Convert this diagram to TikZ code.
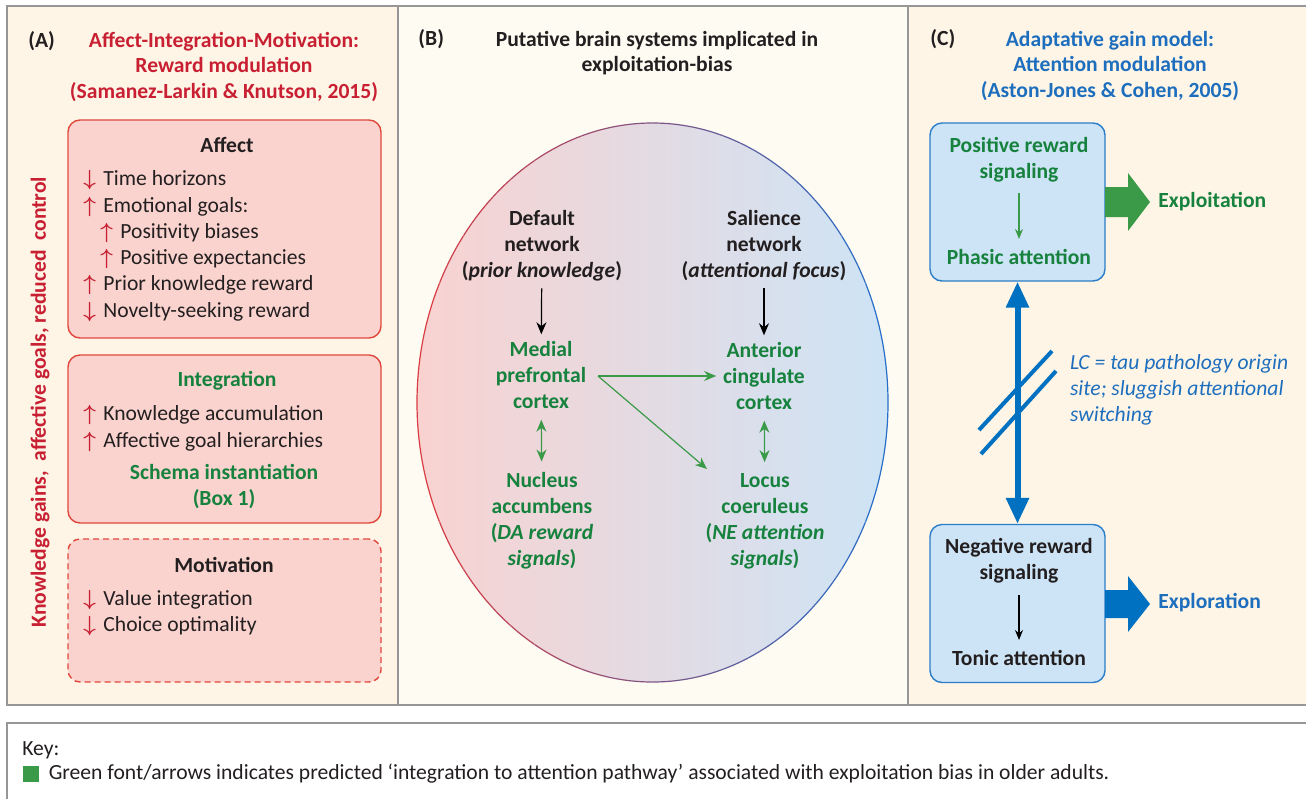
\documentclass[tikz,border=0pt]{standalone}
\usepackage{fontspec}
\setmainfont{Carlito}
\usetikzlibrary{positioning,arrows.meta}

\definecolor{redT}{RGB}{200,32,50}
\definecolor{greenT}{RGB}{22,130,62}
\definecolor{greenA}{RGB}{58,154,72}
\definecolor{blueT}{RGB}{30,110,190}
\definecolor{blueA}{RGB}{0,112,192}
\definecolor{creamA}{RGB}{254,245,230}
\definecolor{creamB}{RGB}{254,251,243}
\definecolor{boxRfill}{RGB}{250,211,206}
\definecolor{boxRline}{RGB}{224,72,62}
\definecolor{boxBfill}{RGB}{205,228,246}
\definecolor{boxBline}{RGB}{42,125,201}
\definecolor{ellL}{RGB}{249,210,208}
\definecolor{ellR}{RGB}{205,228,246}
\definecolor{ellBR}{RGB}{217,60,66}
\definecolor{ellBB}{RGB}{40,110,200}
\definecolor{frameG}{RGB}{150,150,150}
\definecolor{txt}{RGB}{35,31,32}

\newcommand\fs{\fontsize{10.8}{13}\selectfont}
\newcommand\ua{\makebox[10pt][l]{\textcolor{redT}{\boldmath$\uparrow$}}}
\newcommand\da{\makebox[10pt][l]{\textcolor{redT}{\boldmath$\downarrow$}}}

\begin{document}
\begin{tikzpicture}[x=0.5pt, y=-0.5pt,
  font=\fs, text=txt,
  frame/.style={draw=frameG, line width=1pt},
  ttl/.style={font=\fontsize{10.8}{12.8}\selectfont\bfseries, align=center},
  item/.style={anchor=west, inner sep=0pt, text height=7.5pt, text depth=2pt},
  hd/.style={font=\fs\bfseries, inner sep=0pt, text height=7.5pt, text depth=2pt},
  redbox/.style={draw=boxRline, fill=boxRfill, rounded corners=6pt, line width=0.7pt, minimum width=156.5pt},
  bluebox/.style={draw=boxBline, fill=boxBfill, rounded corners=6pt, line width=0.7pt, minimum width=87.5pt, minimum height=79pt},
  brain/.style={font=\fs\bfseries, align=center, text=greenT},
  net/.style={font=\fs\bfseries, align=center},
  arr/.style={-{Stealth[length=6pt,width=5pt]}, line width=0.6pt},
  garr/.style={arr, draw=greenA},
  dgarr/.style={{Stealth[length=6pt,width=5pt]}-{Stealth[length=6pt,width=5pt]}, line width=0.6pt, draw=greenA},
  bigarr/.style={{Triangle[length=13pt,width=11pt]}-{Triangle[length=13pt,width=11pt]}, line width=3pt, draw=blueA}]
\useasboundingbox (0,0) rectangle (1306,798);
% --- panel backgrounds and frames
\fill[creamA] (7,6) rectangle (398,705);
\fill[creamB] (398,6) rectangle (908,705);
\fill[creamA] (908,6) rectangle (1330,705);
\draw[frame] (7,6) rectangle (1330,705);
\draw[frame] (398,6) -- (398,705);
\draw[frame] (908,6) -- (908,705);
\draw[frame, fill=white] (7,723) rectangle (1330,830);

% --- panel A: reward modulation
\node[hd, anchor=west] (labA) at (28,42) {(A)};
\node[ttl, text=redT] (ttlA) at (224,67) {Affect-Integration-Motivation:\\Reward modulation\\(Samanez-Larkin \& Knutson, 2015)};
\node[rotate=90, font=\fs\bfseries, text=redT] (side) at (40,402) {Knowledge gains,\ \ affective goals, reduced\ \ control};
\node[redbox, minimum height=109pt] (affbox) at (224.5,229) {};
\node[redbox, minimum height=84pt] (intbox) at (224.5,439) {};
\node[redbox, minimum height=71.5pt, dash pattern=on 3pt off 2pt] (motbox) at (224.5,610.5) {};
\node[hd] (affhd) at (227,147) {Affect};
\foreach \x/\y/\t in {83/180/\da Time horizons, 83/207/\ua Emotional goals:, 100/233/\ua Positivity biases,
  100/259/\ua Positive expectancies, 83/285/\ua Prior knowledge reward, 83/312/\da Novelty-seeking reward}
  \node[item] (aff\y) at (\x,\y) {\t};
\node[hd, text=greenT] (inthd) at (227,381) {Integration};
\foreach \y/\t in {415/\ua Knowledge accumulation, 442/\ua Affective goal hierarchies}
  \node[item] (int\y) at (83,\y) {\t};
\node[brain] (schema) at (224,487) {Schema instantiation\\(Box 1)};
\node[hd] (mothd) at (224,567) {Motivation};
\foreach \y/\t in {600/\da Value integration, 626/\da Choice optimality}
  \node[item] (mot\y) at (83,\y) {\t};

% --- panel B: brain systems
\node[hd, anchor=west] (labB) at (418,40) {(B)};
\node[ttl] (ttlB) at (657,53) {Putative brain systems implicated in\\exploitation-bias};
\shade[left color=ellL, right color=ellR] (652.5,402.5) ellipse [x radius=235.5, y radius=279.5];
\foreach \i in {0,...,19} {
  \pgfmathsetmacro\pc{100-\i*5.26}
  \begin{scope}
    \clip (416+\i*23.65,100) rectangle ++(23.65,600);
    \draw[line width=0.6pt, draw=ellBR!\pc!ellBB] (652.5,402.5) ellipse [x radius=235.5, y radius=279.5];
  \end{scope}
}
\node[net] (dmn) at (542,246) {Default\\network\\(\textit{prior knowledge})};
\node[net] (sal) at (764,246) {Salience\\network\\(\textit{attentional focus})};
\node[brain] (mpfc) at (541,375) {Medial\\prefrontal\\cortex};
\node[brain] (acc) at (764,376) {Anterior\\cingulate\\cortex};
\node[brain] (nacc) at (542,521) {Nucleus\\accumbens\\(\textit{DA reward}\\\textit{signals})};
\node[brain] (lc) at (765,521) {Locus\\coeruleus\\(\textit{NE attention}\\\textit{signals})};
\draw[arr] (dmn) -- (mpfc);
\draw[arr] (sal) -- (acc);
\draw[dgarr, shorten <=2pt, shorten >=2pt] (mpfc) -- (nacc);
\draw[dgarr, shorten <=2pt, shorten >=2pt] (acc) -- (lc);
\coordinate (mp) at (598,376);
\draw[garr] (mp) -- (acc.west |- mp);
\draw[garr] (mp) -- (707,469);

% --- panel C: attention modulation
\node[hd, anchor=west] (labC) at (930,40) {(C)};
\node[ttl, text=blueT] (ttlC) at (1110,66) {Adaptative gain model:\\Attention modulation\\(Aston-Jones \& Cohen, 2005)};
\node[bluebox] (upbox) at (1017.5,202) {};
\node[bluebox] (lobox) at (1017.5,603.5) {};
\node[net, text=greenT] (posr) at (1019,160) {Positive reward\\signaling};
\node[hd, text=greenT] (phas) at (1019,259) {Phasic attention};
\node[net] (negr) at (1019,561) {Negative reward\\signaling};
\node[hd] (toni) at (1019,660) {Tonic attention};
\draw[garr, -{Stealth[length=5pt,width=4pt]}] (1019,193) -- (1019,239);
\draw[arr, -{Stealth[length=5pt,width=4pt]}] (1019,595) -- (1019,640);
\draw[bigarr] (upbox.south) -- (lobox.north);
\draw[blueA, line width=2pt] (979,430) -- (1052,351);
\draw[blueA, line width=2pt] (981,454) -- (1056,371);
\node[align=left, anchor=west, text=blueT, font=\fs\itshape] (lcnote) at (1063,390) {LC = tau pathology origin\\site; sluggish attentional\\switching};
\fill[greenA] (1105,187) -- (1128,187) -- (1128,173) -- (1150,202) -- (1128,231) -- (1128,217) -- (1105,217) -- cycle;
\fill[blueA] (1105,590) -- (1128,590) -- (1128,576) -- (1150,604) -- (1128,632) -- (1128,618) -- (1105,618) -- cycle;
\node[hd, text=greenT, anchor=west] (expl) at (1158,202) {Exploitation};
\node[hd, text=blueT, anchor=west] (explr) at (1158,603) {Exploration};

% --- key
\node[item] (key) at (22,750) {Key:};
\node[fill=greenA, minimum size=8pt, inner sep=0pt] (keysq) at (31,774) {};
\node[item, right=4.5pt of keysq] (keytxt) {Green font/arrows indicates predicted ‘integration to attention pathway’ associated with exploitation bias in older adults.};
\end{tikzpicture}
\end{document}
